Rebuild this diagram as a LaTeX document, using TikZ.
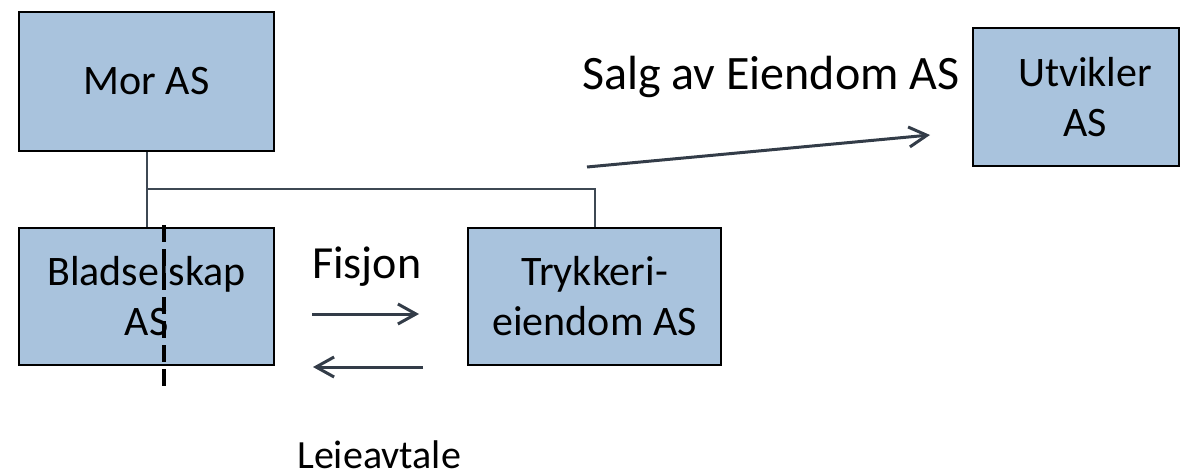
\documentclass[tikz,border=0pt]{standalone}
\usepackage{fontspec}
\setmainfont{Carlito}
\usetikzlibrary{arrows.meta}
\definecolor{boxfill}{HTML}{A9C3DD}
\definecolor{linegray}{HTML}{3E4853}
\definecolor{arrowcol}{HTML}{333C48}
\tikzset{
  entity/.style={draw=black, line width=2.4pt, fill=boxfill, rectangle, align=center,
    inner sep=0pt, font=\fontsize{42}{50}\selectfont},
  boxtext/.style={inner sep=0pt, align=center, font=\fontsize{42}{50}\selectfont},
  conn/.style={draw=linegray, line width=2pt},
  flow/.style={draw=arrowcol, line width=3pt, -{Straight Barb[length=18pt,width=20pt,line width=3pt]}},
  lbl/.style={inner sep=0pt, anchor=base west},
  cut/.style={draw=black, line width=3.2pt, dash pattern=on 17pt off 7pt}
}
\begin{document}
\begin{tikzpicture}[x=1pt,y=-1pt]
\useasboundingbox (0,0) rectangle (1181,476);
\node[entity, minimum width=255pt, minimum height=139pt] (mor) at (146.5,81.5) {Mor AS};
\node[entity, minimum width=255pt, minimum height=137pt] (blad) at (146.5,296.5) {Bladselskap\\AS};
\node[entity, minimum width=253pt, minimum height=137pt] (tryk) at (594.5,296.5) {Trykkeri-\\eiendom AS};
\node[entity, minimum width=206pt, minimum height=138pt] (utv) at (1076,97) {};
\node[boxtext] (utvtext) at ([xshift=9pt]utv.center) {Utvikler\\AS};
\coordinate (j) at (146.5,189);
\draw[conn] (mor.south) -- (blad.north);
\draw[conn] (j) -| (tryk.north);
\coordinate (s1) at (587,167);
\coordinate (s2) at (930,135);
\draw[flow] (s1) -- (s2);
\coordinate (f1) at (312,314);
\coordinate (f2) at (419,314);
\draw[flow] (f1) -- (f2);
\coordinate (l1) at (423,367);
\coordinate (l2) at (313,367);
\draw[flow] (l1) -- (l2);
\coordinate (c1) at (164,225);
\coordinate (c2) at (164,387);
\draw[cut] (c1) -- (c2);
\node[lbl, font=\fontsize{48}{58}\selectfont] (salg) at (582,90) {Salg av Eiendom AS};
\node[lbl, font=\fontsize{46}{55}\selectfont] (fisjon) at (312,278) {Fisjon};
\node[lbl, font=\fontsize{40}{49}\selectfont] (leie) at (297,468) {Leieavtale};
\end{tikzpicture}
\end{document}
